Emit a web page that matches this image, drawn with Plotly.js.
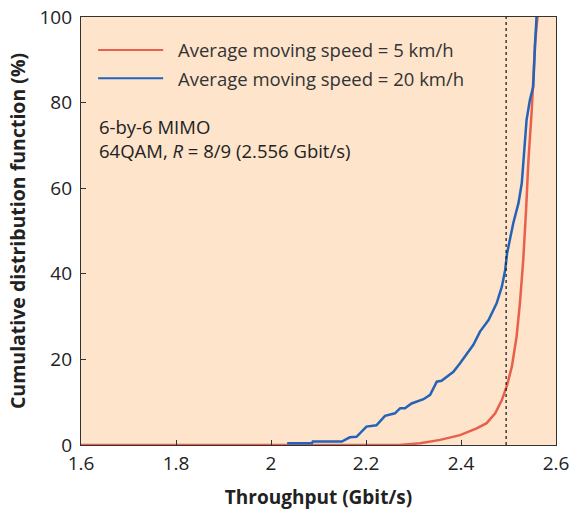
<!DOCTYPE html>
<html><head><meta charset="utf-8">
<script src="https://cdn.plot.ly/plotly-3.0.1.min.js"></script>
<style>body{margin:0;background:#fff}#c{width:569px;height:511px}</style>
</head><body><div id="c"></div>
<script>
const redX = [1.6, 2.0, 2.27, 2.314, 2.356, 2.398, 2.433, 2.454, 2.472, 2.486, 2.497, 2.507, 2.517, 2.524, 2.531, 2.537, 2.542, 2.549, 2.552, 2.556, 2.561];
const redY = [0, 0, 0, 0.4, 1.2, 2.3, 3.9, 5.1, 7.4, 10.5, 14.0, 18.3, 25.3, 33.1, 43.2, 54.9, 66.6, 78.3, 86.0, 93.9, 100];
const blueX = [2.034, 2.086, 2.088, 2.149, 2.166, 2.180, 2.201, 2.222, 2.240, 2.261, 2.272, 2.282, 2.296, 2.321, 2.335, 2.349, 2.359, 2.384, 2.398, 2.412, 2.426, 2.440, 2.458, 2.475, 2.486, 2.493, 2.497, 2.510, 2.521, 2.528, 2.535, 2.538, 2.545, 2.552, 2.556, 2.559];
const blueY = [0.4, 0.4, 0.8, 0.8, 1.8, 1.9, 4.3, 4.6, 6.8, 7.4, 8.6, 8.6, 9.7, 10.7, 11.7, 14.8, 15.0, 17.1, 19.1, 21.4, 23.4, 26.5, 29.2, 33.1, 37.0, 40.9, 44.8, 51.8, 56.5, 61.2, 70.5, 75.9, 80.6, 83.7, 93.9, 100];
const refX = 2.495;
const seriesNames = ["Average moving speed = 5 km/h", "Average moving speed = 20 km/h"];
const xTicks = [1.6, 1.8, 2, 2.2, 2.4, 2.6];
const yTicks = [0, 20, 40, 60, 80, 100];
const RED = "#e8604c", BLUE = "#2563b8";
const FONT = "Open Sans, sans-serif";
const traces = [
  {x: redX, y: redY, mode: "lines", line: {color: RED, width: 2.5}, name: seriesNames[0]},
  {x: blueX, y: blueY, mode: "lines", line: {color: BLUE, width: 2.5}, name: seriesNames[1]}
];
const layout = {
  width: 569, height: 511,
  margin: {l: 81, r: 13, t: 17, b: 66},
  paper_bgcolor: "#ffffff", plot_bgcolor: "#fde4cb",
  showlegend: false,
  font: {family: FONT, color: "#333", size: 16},
  xaxis: {range: [1.6, 2.6], tickvals: xTicks, ticktext: xTicks.map(String), ticks: "inside", ticklen: 5,
    tickcolor: "#333", showline: true, linecolor: "#333", linewidth: 1.2, mirror: true, showgrid: false, zeroline: false,
    tickfont: {size: 19, color: "#222"}, ticklabelstandoff: 1, ticklabeloverflow: "allow",
    title: {text: "<b>Throughput (Gbit/s)</b>", font: {size: 19, color: "#222"}, standoff: 15}},
  yaxis: {range: [0, 100], tickvals: yTicks, ticks: "inside", ticklen: 5,
    tickcolor: "#333", showline: true, linecolor: "#333", linewidth: 1.2, mirror: true, showgrid: false, zeroline: false,
    tickfont: {size: 19, color: "#222"}, ticklabelstandoff: 4, ticklabeloverflow: "allow",
    title: {text: "<b>Cumulative distribution function (%)</b>", font: {size: 19.5, color: "#222"}, standoff: 8}},
  shapes: [
    {type: "line", xref: "x", yref: "y", x0: refX, x1: refX, y0: 0, y1: 100, line: {color: "#222", width: 1.3, dash: "dot"}},
    {type: "line", xref: "paper", yref: "paper", x0: 0.036, x1: 0.173, y0: 0.923, y1: 0.923, line: {color: RED, width: 2}},
    {type: "line", xref: "paper", yref: "paper", x0: 0.036, x1: 0.173, y0: 0.857, y1: 0.857, line: {color: BLUE, width: 2}}
  ],
  annotations: [
    {xref: "paper", yref: "paper", x: 0.199, y: 0.923, xanchor: "left", yanchor: "middle", showarrow: false, text: seriesNames[0], font: {size: 18.5, color: "#333"}},
    {xref: "paper", yref: "paper", x: 0.199, y: 0.857, xanchor: "left", yanchor: "middle", showarrow: false, text: seriesNames[1], font: {size: 18.5, color: "#333"}},
    {xref: "paper", yref: "paper", x: 0.034, y: 0.745, xanchor: "left", yanchor: "middle", showarrow: false, text: "6-by-6 MIMO", font: {size: 18.5, color: "#222"}},
    {xref: "paper", yref: "paper", x: 0.034, y: 0.689, xanchor: "left", yanchor: "middle", showarrow: false, text: "64QAM, <i>R</i> = 8/9 (2.556 Gbit/s)", font: {size: 18.5, color: "#222"}}
  ]
};
Plotly.newPlot("c", traces, layout, {displayModeBar: false, staticPlot: true});
</script></body></html>
